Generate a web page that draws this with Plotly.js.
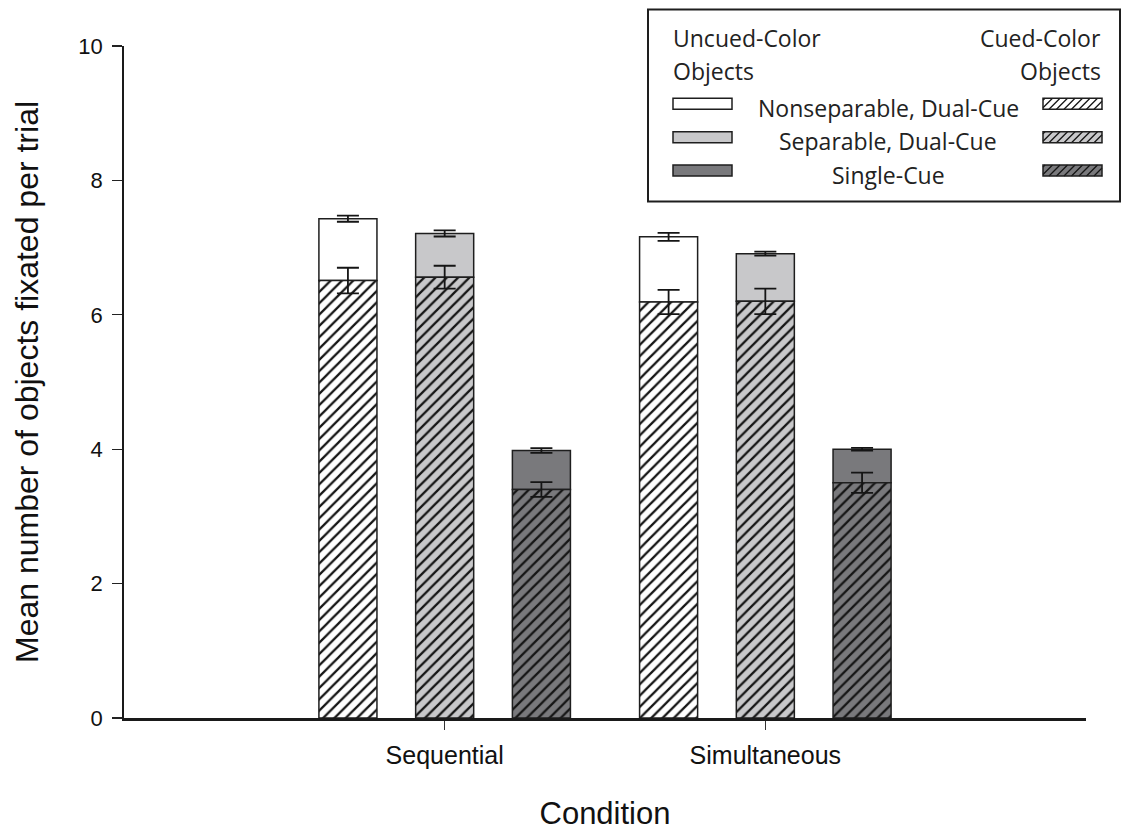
<!DOCTYPE html>
<html><head><meta charset="utf-8">
<script src="https://cdn.plot.ly/plotly-3.0.1.min.js"></script>
<style>html,body{margin:0;padding:0;background:#fff}#chart{width:1122px;height:831px}</style>
</head><body><div id="chart"></div>
<script>
// ---- data ----
const conditions = ['Sequential', 'Simultaneous'];
const cueTypes = ['Nonseparable, Dual-Cue', 'Separable, Dual-Cue', 'Single-Cue'];

const cuedNonsep = [6.51, 6.19];
const cuedNonsepErr = [0.19, 0.18];
const uncuedNonsep = [0.92, 0.97];
const uncuedNonsepErr = [0.045, 0.06];

const cuedSep = [6.56, 6.20];
const cuedSepErr = [0.17, 0.19];
const uncuedSep = [0.65, 0.71];
const uncuedSepErr = [0.045, 0.03];

const cuedSingle = [3.40, 3.50];
const cuedSingleErr = [0.11, 0.15];
const uncuedSingle = [0.58, 0.50];
const uncuedSingleErr = [0.035, 0.02];

const yTicks = [0, 2, 4, 6, 8, 10];

// ---- styles ----
const fills = ['#ffffff', '#c8c8ca', '#79797c'];
const edge = '#1e1e1e';
const ARIAL = 'Liberation Sans, Arial, sans-serif';
const LEGFONT = 'Open Sans, Noto Sans, sans-serif';

const cued = [cuedNonsep, cuedSep, cuedSingle];
const cuedErr = [cuedNonsepErr, cuedSepErr, cuedSingleErr];
const uncued = [uncuedNonsep, uncuedSep, uncuedSingle];
const uncuedErr = [uncuedNonsepErr, uncuedSepErr, uncuedSingleErr];

const traces = [];
// uncued (top) segments first so the cued error bars are drawn over them
for (let i = 0; i < 3; i++) {
  traces.push({
    type: 'bar', x: conditions, y: uncued[i], base: cued[i], name: cueTypes[i] + ' (uncued)',
    offsetgroup: String(i),
    marker: {color: fills[i], line: {color: edge, width: 1.5}},
    error_y: {type: 'data', array: uncuedErr[i], color: '#151515', thickness: 1.8, width: 11},
    showlegend: false, hoverinfo: 'skip'
  });
}
for (let i = 0; i < 3; i++) {
  traces.push({
    type: 'bar', x: conditions, y: cued[i], name: cueTypes[i] + ' (cued)',
    offsetgroup: String(i),
    marker: {color: fills[i], line: {color: edge, width: 1.5},
      pattern: {shape: '/', fgcolor: '#151515', bgcolor: fills[i], size: 8, solidity: 0.28}},
    error_y: {type: 'data', array: cuedErr[i], color: '#151515', thickness: 1.8, width: 11},
    showlegend: false, hoverinfo: 'skip'
  });
}

// ---- plot geometry helpers (pixel -> paper) for the custom legend ----
const W = 1122, H = 831;
const M = {l: 124, r: 36, t: 46, b: 113};
const PW = W - M.l - M.r, PH = H - M.t - M.b;
const px = v => (v - M.l) / PW;
const py = v => (H - M.b - v) / PH;

function hatchPath(x0, x1, yt, yb, step) {
  const h = yb - yt;
  let d = '';
  for (let a = x0 - h + 2; a < x1; a += step) {
    let sx = a, sy = yb, ex = a + h, ey = yt;
    if (sx < x0) { sy = yb - (x0 - a); sx = x0; }
    if (ex > x1) { ey = yb - (x1 - a); ex = x1; }
    d += 'M' + px(sx).toFixed(5) + ',' + py(sy).toFixed(5) + 'L' + px(ex).toFixed(5) + ',' + py(ey).toFixed(5);
  }
  return d;
}

const shapes = [
  {type: 'rect', xref: 'paper', yref: 'paper', x0: px(648), x1: px(1120), y0: py(9.5), y1: py(201.5),
   line: {color: edge, width: 2}, fillcolor: 'rgba(255,255,255,1)', layer: 'above'}
];
const annotations = [
  {xref: 'paper', yref: 'paper', x: px(671), y: py(38), xanchor: 'left', yanchor: 'middle', showarrow: false,
   text: 'Uncued-Color', font: {family: LEGFONT, size: 23, color: '#222'}},
  {xref: 'paper', yref: 'paper', x: px(671), y: py(71), xanchor: 'left', yanchor: 'middle', showarrow: false,
   text: 'Objects', font: {family: LEGFONT, size: 23, color: '#222'}},
  {xref: 'paper', yref: 'paper', x: px(1103), y: py(38), xanchor: 'right', yanchor: 'middle', showarrow: false,
   text: 'Cued-Color', font: {family: LEGFONT, size: 23, color: '#222'}},
  {xref: 'paper', yref: 'paper', x: px(1103), y: py(71), xanchor: 'right', yanchor: 'middle', showarrow: false,
   text: 'Objects', font: {family: LEGFONT, size: 23, color: '#222'}}
];
const rowY = [103.7, 137.2, 170.5];
for (let i = 0; i < 3; i++) {
  const yc = rowY[i];
  const yt = yc - 5.5, yb = yc + 5.5;
  shapes.push({type: 'rect', xref: 'paper', yref: 'paper', x0: px(673), x1: px(732), y0: py(yb), y1: py(yt),
    line: {color: edge, width: 1.5}, fillcolor: fills[i], layer: 'above'});
  shapes.push({type: 'rect', xref: 'paper', yref: 'paper', x0: px(1043), x1: px(1102), y0: py(yb), y1: py(yt),
    line: {width: 0}, fillcolor: fills[i], layer: 'above'});
  shapes.push({type: 'path', xref: 'paper', yref: 'paper', path: hatchPath(1043, 1102, yt, yb, 7.5),
    line: {color: '#151515', width: 1.3}, layer: 'above'});
  shapes.push({type: 'rect', xref: 'paper', yref: 'paper', x0: px(1043), x1: px(1102), y0: py(yb), y1: py(yt),
    line: {color: edge, width: 1.5}, fillcolor: 'rgba(0,0,0,0)', layer: 'above'});
  annotations.push({xref: 'paper', yref: 'paper', x: px(888), y: py(yc + 4), xanchor: 'center', yanchor: 'middle',
    showarrow: false, text: cueTypes[i], font: {family: LEGFONT, size: 23, color: '#222'}});
}

const layout = {
  width: W, height: H,
  margin: M,
  paper_bgcolor: '#fff', plot_bgcolor: '#fff',
  barmode: 'group', bargap: 0.095, bargroupgap: 0.4,
  showlegend: false,
  xaxis: {
    type: 'category', range: [-1, 2], fixedrange: true,
    showline: true, linecolor: '#1a1a1a', linewidth: 2.5,
    ticks: 'outside', ticklen: 9, tickwidth: 1, tickcolor: '#333',
    tickfont: {family: ARIAL, size: 25, color: '#111'},
    ticklabelstandoff: 4,
    showgrid: false, zeroline: false, automargin: false,
    title: {text: 'Condition', font: {family: ARIAL, size: 31, color: '#111'}, standoff: 44}
  },
  yaxis: {
    range: [0, 10], tickvals: yTicks, ticktext: yTicks.map(String), fixedrange: true,
    showline: true, linecolor: '#1a1a1a', linewidth: 1.8,
    ticks: 'outside', ticklen: 10, tickwidth: 1.2, tickcolor: '#222',
    tickfont: {family: ARIAL, size: 22, color: '#111'},
    ticklabelstandoff: 5,
    showgrid: false, zeroline: false, automargin: false,
    title: {text: 'Mean number of objects fixated per trial', font: {family: ARIAL, size: 32, color: '#111'}, standoff: 30}
  },
  shapes: shapes, annotations: annotations
};

Plotly.newPlot('chart', traces, layout, {displayModeBar: false, staticPlot: true});
</script></body></html>
